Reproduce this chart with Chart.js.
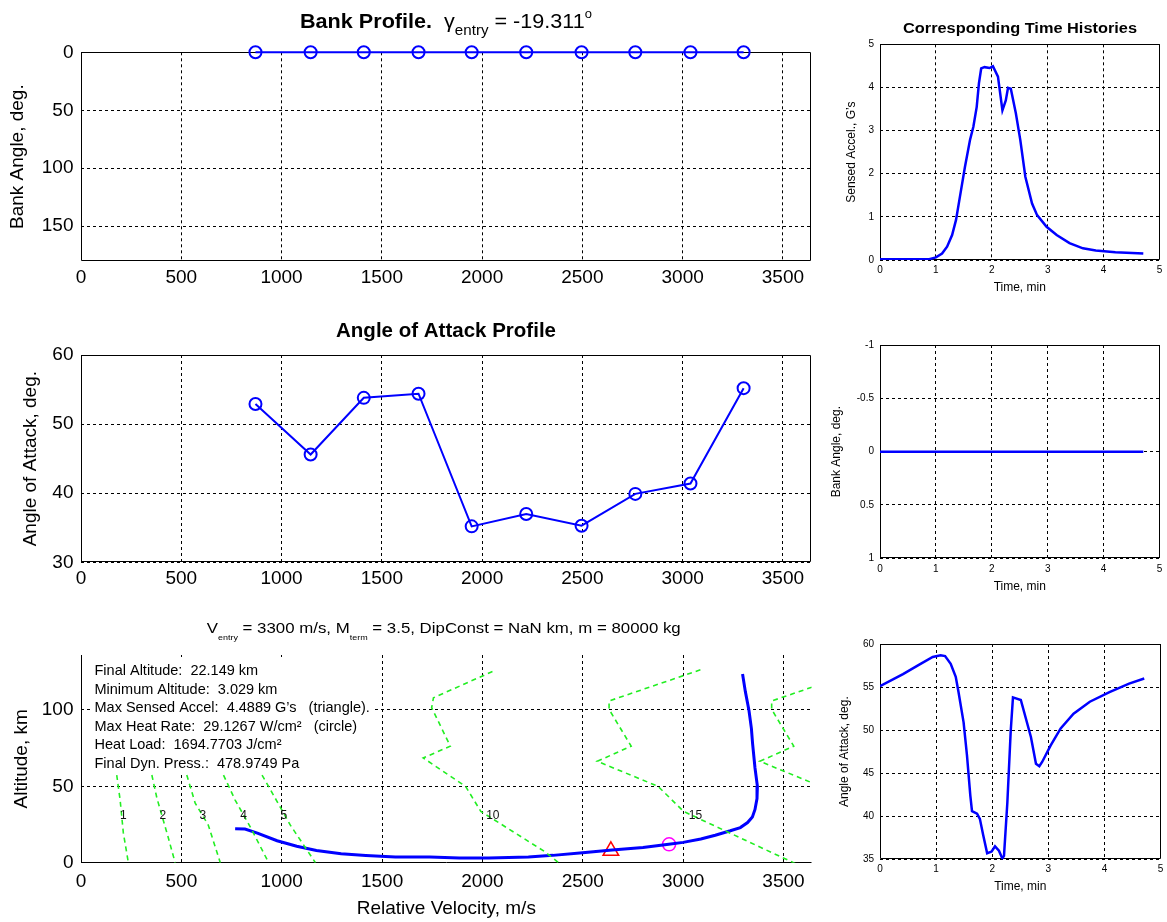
<!DOCTYPE html>
<html><head><meta charset="utf-8">
<script src="https://cdn.jsdelivr.net/npm/chart.js@4.4.1/dist/chart.umd.min.js"></script>
<style>
html,body{margin:0;padding:0;background:#fff;width:1167px;height:922px;overflow:hidden}
canvas{position:absolute;left:0;top:0}
</style></head><body>
<canvas id="c1" width="1167" height="922"></canvas>
<canvas id="c2" width="1167" height="922"></canvas>
<canvas id="c3" width="1167" height="922"></canvas>
<canvas id="c4" width="1167" height="922"></canvas>
<canvas id="c5" width="1167" height="922"></canvas>
<canvas id="c6" width="1167" height="922"></canvas>
<script>
// ---------------- data ----------------
const profileVel = [870, 1145, 1410, 1683, 1948, 2220, 2496, 2764, 3039, 3304];
const bankProfile = [0, 0, 0, 0, 0, 0, 0, 0, 0, 0];
const aoaProfile = [52.9, 45.6, 53.8, 54.4, 35.2, 37.0, 35.3, 39.9, 41.4, 55.2];

const trajVel = [3296, 3310, 3328, 3340, 3346, 3358, 3370, 3368, 3358, 3345, 3321, 3285, 3235, 3160, 3088, 3000, 2928, 2800, 2646, 2499, 2351, 2229, 2032, 1885, 1738, 1566, 1419, 1296, 1173, 1075, 977, 879, 817, 768];
const trajAlt = [123.5, 112, 99.6, 88, 78, 62, 50, 42, 34.9, 30, 26.3, 23, 20.9, 18, 15.5, 13.3, 12.1, 10, 8.3, 6.5, 4.8, 3.8, 3.03, 3.1, 3.7, 3.8, 4.7, 5.8, 8, 10.8, 14.4, 19.4, 22, 22.15];
const maxAccelPoint = [2640, 7.8];
const maxHeatPoint = [2930, 12];

const c1Vel = [178, 195, 211, 236],  c1Alt = [57.4, 41, 19.5, 0];
const c2Vel = [353, 378, 434, 469],  c2Alt = [57.4, 42.4, 16.8, 0];
const c3Vel = [527, 569, 634, 694],  c3Alt = [57.4, 39, 24.7, 0];
const c4Vel = [710, 768, 843, 935],  c4Alt = [57.4, 41, 23.5, 0];
const c5Vel = [902, 960, 1043, 1168], c5Alt = [57.4, 44, 24.6, 0];
const c10Vel = [2050, 1756, 1747, 1840, 1705, 1916, 1992, 2311, 2379];
const c10Alt = [125.2, 108, 101.5, 76.3, 68.6, 50, 33.6, 7.2, 0];
const c15Vel = [3086, 2631, 2631, 2741, 2572, 2875, 3002, 3574];
const c15Alt = [126.3, 105.9, 100.4, 76.3, 66.4, 50, 33.6, -1.5];
const c20Vel = [3896, 3441, 3441, 3551, 3382, 3685, 3812, 4384];
const c20Alt = [126.3, 105.9, 100.4, 76.3, 66.4, 50, 33.6, -1.5];
const contourLabels = ['1', '2', '3', '4', '5', '10', '15'];
const contourLabelVel = [211, 408, 607, 810, 1010, 2052, 3061];
const contourLabelAlt = [31, 31, 31, 31, 31, 31, 31];

const summaryLines = [
  'Final Altitude:  22.149 km',
  'Minimum Altitude:  3.029 km',
  'Max Sensed Accel:  4.4889 G\u2019s   (triangle).',
  'Max Heat Rate:  29.1267 W/cm\u00B2   (circle)',
  'Heat Load:  1694.7703 J/cm\u00B2',
  'Final Dyn. Press.:  478.9749 Pa'
];

const accelTime = [0, 0.88, 1.0, 1.11, 1.2, 1.29, 1.36, 1.43, 1.52, 1.61, 1.67, 1.73, 1.77, 1.81, 1.87, 1.96, 2.02, 2.11, 2.19, 2.25, 2.29, 2.34, 2.43, 2.51, 2.6, 2.72, 2.81, 2.98, 3.16, 3.39, 3.63, 3.86, 4.21, 4.71];
const accelG = [0.02, 0.02, 0.06, 0.15, 0.31, 0.58, 0.93, 1.47, 2.16, 2.78, 3.09, 3.55, 4.1, 4.44, 4.47, 4.45, 4.49, 4.25, 3.47, 3.7, 3.99, 3.97, 3.4, 2.78, 1.93, 1.31, 1.04, 0.77, 0.58, 0.39, 0.27, 0.22, 0.18, 0.15];
const bankTime = [0, 4.71];
const bankHist = [0, 0];
const aoaTime = [0, 0.41, 0.70, 0.94, 1.08, 1.16, 1.26, 1.35, 1.40, 1.49, 1.55, 1.61, 1.64, 1.73, 1.78, 1.84, 1.91, 1.99, 2.05, 2.12, 2.18, 2.21, 2.27, 2.33, 2.37, 2.51, 2.69, 2.78, 2.84, 2.89, 3.04, 3.22, 3.45, 3.74, 4.09, 4.44, 4.71];
const aoaHist = [55.1, 56.5, 57.6, 58.5, 58.7, 58.6, 57.7, 56.2, 54.4, 50.9, 47.1, 42.4, 40.6, 40.3, 39.7, 37.8, 35.7, 35.9, 36.5, 36.0, 35.1, 35.4, 41.6, 49.9, 53.8, 53.5, 49.2, 46.1, 45.8, 46.3, 48.2, 50.2, 51.9, 53.3, 54.4, 55.4, 56.0];

const velTicks = [0, 500, 1000, 1500, 2000, 2500, 3000, 3500];
const bankTicks = [0, 50, 100, 150];
const aoaTicks = [30, 40, 50, 60];
const altTicks = [0, 50, 100];
const timeTicks = [0, 1, 2, 3, 4, 5];
const accelTicks = [0, 1, 2, 3, 4, 5];
const bankHistTicks = [-1, -0.5, 0, 0.5, 1];
const aoaHistTicks = [35, 40, 45, 50, 55, 60];

// ---------------- helpers ----------------
const FAM = '"Liberation Sans", Arial, Helvetica, sans-serif';
const pts = (xs, ys) => xs.map((v, i) => ({x: v, y: ys[i]}));

function axis(o) {
  return {
    type: 'linear', min: o.min, max: o.max, reverse: !!o.reverse,
    afterBuildTicks: s => { s.ticks = o.ticks.map(v => ({value: v})); },
    afterFit: s => { if (o.width != null) s.width = o.width; if (o.height != null) s.height = o.height; },
    ticks: {callback: v => String(v), font: {size: o.fs, family: FAM}, color: '#000', padding: o.pad,
            autoSkip: false, maxRotation: 0, minRotation: 0, includeBounds: false},
    grid: {display: true, color: '#000', lineWidth: 1, drawTicks: false},
    border: {display: false, dash: [3, 3]},
    title: o.title ? {display: true, text: o.title, font: {size: o.ts, family: FAM}, color: '#000', padding: 0} : {display: false}
  };
}

function richText(ctx, segs, cx, baseY, targetW) {
  ctx.save();
  ctx.fillStyle = '#000';
  ctx.textBaseline = 'alphabetic';
  ctx.textAlign = 'left';
  let w = 0;
  segs.forEach(s => { ctx.font = s.f; s.w = ctx.measureText(s.t).width; w += s.w; });
  const sx = targetW ? targetW / w : 1;
  ctx.translate(cx - w * sx / 2, baseY);
  ctx.scale(sx, 1);
  let x = 0;
  segs.forEach(s => { ctx.font = s.f; ctx.fillText(s.t, x, s.dy || 0); x += s.w; });
  ctx.restore();
}

function framePlugin(sides, extra) {
  return {
    id: 'frame',
    beforeDatasetsDraw(chart) {
      const {ctx, chartArea: a} = chart;
      if (extra && extra.before) extra.before(chart);
      const l = Math.round(a.left) + 0.5, r = Math.round(a.right) - 0.5;
      const t = Math.round(a.top) + 0.5, b = Math.round(a.bottom) - 0.5;
      ctx.save();
      ctx.setLineDash([]);
      ctx.strokeStyle = '#000';
      ctx.lineWidth = 1;
      ctx.beginPath();
      if (sides === 'lb') { ctx.moveTo(l, t); ctx.lineTo(l, b); ctx.lineTo(r, b); }
      else ctx.rect(l, t, r - l, b - t);
      ctx.stroke();
      ctx.restore();
    },
    afterDraw(chart) { if (extra && extra.after) extra.after(chart); }
  };
}

function baseOpts(pad, x, y) {
  return {
    responsive: false, animation: false, devicePixelRatio: 1, events: [],
    layout: {padding: pad, autoPadding: false},
    plugins: {legend: {display: false}, tooltip: {enabled: false}, title: {display: false}},
    scales: {x: x, y: y}
  };
}

const BLUE = '#0000ff';
const GREEN = '#22ee22';

// ---------------- Panel 1: Bank profile ----------------
new Chart(document.getElementById('c1'), {
  type: 'scatter',
  data: {datasets: [{data: pts(profileVel, bankProfile), showLine: true, borderColor: BLUE, borderWidth: 2,
    pointRadius: 6, pointBorderWidth: 2, pointBorderColor: BLUE, pointBackgroundColor: 'rgba(0,0,0,0)', clip: false}]},
  options: baseOpts({left: 6.7, right: 356, top: 52.3, bottom: 631},
    axis({min: 0, max: 3640, ticks: velTicks, fs: 19, pad: 5.5, height: 30}),
    axis({min: 0, max: 180, reverse: true, ticks: bankTicks, fs: 19, pad: 7.5, width: 74.3, title: 'Bank Angle, deg.', ts: 19})),
  plugins: [framePlugin('all', {after(chart) {
    const a = chart.chartArea;
    richText(chart.ctx, [
      {t: 'Bank Profile.', f: 'bold 20px ' + FAM},
      {t: '  \u03B3', f: '20px ' + FAM},
      {t: 'entry', f: '14px ' + FAM, dy: 7},
      {t: ' = -19.311', f: '20px ' + FAM},
      {t: 'o', f: '12px ' + FAM, dy: -10}
    ], (a.left + a.right) / 2, a.top - 24.8, 292);
  }})]
});

// ---------------- Panel 2: Angle of attack profile ----------------
new Chart(document.getElementById('c2'), {
  type: 'scatter',
  data: {datasets: [{data: pts(profileVel, aoaProfile), showLine: true, borderColor: BLUE, borderWidth: 2,
    pointRadius: 6, pointBorderWidth: 2, pointBorderColor: BLUE, pointBackgroundColor: 'rgba(0,0,0,0)', clip: false}]},
  options: baseOpts({left: 19.1, right: 356, top: 355, bottom: 329.7},
    axis({min: 0, max: 3640, ticks: velTicks, fs: 19, pad: 4.8, height: 30}),
    axis({min: 30, max: 60, ticks: aoaTicks, fs: 19, pad: 7.5, width: 61.9, title: 'Angle of Attack, deg.', ts: 19})),
  plugins: [framePlugin('all', {after(chart) {
    const a = chart.chartArea;
    richText(chart.ctx, [{t: 'Angle of Attack Profile', f: 'bold 20px ' + FAM}], (a.left + a.right) / 2, a.top - 18, 220);
  }})]
});

// ---------------- Panel 3: Altitude vs velocity ----------------
const contourStyle = {showLine: true, borderColor: GREEN, borderWidth: 1.6, borderDash: [5, 4], pointRadius: 0};
new Chart(document.getElementById('c3'), {
  type: 'scatter',
  data: {datasets: [
    Object.assign({data: pts(c1Vel, c1Alt)}, contourStyle),
    Object.assign({data: pts(c2Vel, c2Alt)}, contourStyle),
    Object.assign({data: pts(c3Vel, c3Alt)}, contourStyle),
    Object.assign({data: pts(c4Vel, c4Alt)}, contourStyle),
    Object.assign({data: pts(c5Vel, c5Alt)}, contourStyle),
    Object.assign({data: pts(c10Vel, c10Alt)}, contourStyle),
    Object.assign({data: pts(c15Vel, c15Alt)}, contourStyle),
    Object.assign({data: pts(c20Vel, c20Alt)}, contourStyle),
    {data: pts(trajVel, trajAlt), showLine: true, borderColor: BLUE, borderWidth: 3, pointRadius: 0},
    {data: [{x: maxAccelPoint[0], y: maxAccelPoint[1]}], pointStyle: 'triangle', pointRadius: 9, pointBorderWidth: 1.5,
     pointBorderColor: '#ff0000', pointBackgroundColor: 'rgba(0,0,0,0)', clip: false},
    {data: [{x: maxHeatPoint[0], y: maxHeatPoint[1]}], pointStyle: 'circle', pointRadius: 6.5, pointBorderWidth: 1.5,
     pointBorderColor: '#ff00ff', pointBackgroundColor: 'rgba(0,0,0,0)', clip: false}
  ]},
  options: baseOpts({left: 10.6, right: 355.4, top: 655, bottom: 2.3},
    axis({min: 0, max: 3640, ticks: velTicks, fs: 19, pad: 7.6, height: 57, title: 'Relative Velocity, m/s', ts: 19}),
    axis({min: 0, max: 136, ticks: altTicks, fs: 19, pad: 7.5, width: 70.4, title: 'Altitude, km', ts: 19})),
  plugins: [framePlugin('lb', {
    before(chart) {
      const {ctx, chartArea: a} = chart;
      ctx.save();
      ctx.fillStyle = '#fff';
      ctx.fillRect(a.left + 11, a.top + 2, 283, 117);
      ctx.fillStyle = '#000';
      ctx.font = '14.5px ' + FAM;
      ctx.textBaseline = 'alphabetic';
      summaryLines.forEach((s, i) => ctx.fillText(s, a.left + 13.5, a.top + 20 + i * 18.5));
      ctx.restore();
    },
    after(chart) {
      const {ctx, chartArea: a, scales} = chart;
      ctx.save();
      ctx.fillStyle = '#111';
      ctx.font = '12px ' + FAM;
      ctx.textAlign = 'center';
      ctx.textBaseline = 'middle';
      contourLabels.forEach((t, i) => ctx.fillText(t, scales.x.getPixelForValue(contourLabelVel[i]), scales.y.getPixelForValue(contourLabelAlt[i])));
      ctx.restore();
      richText(ctx, [
        {t: 'V', f: '15px ' + FAM},
        {t: 'entry', f: '8px ' + FAM, dy: 7},
        {t: ' = 3300 m/s, M', f: '15px ' + FAM},
        {t: 'term', f: '8px ' + FAM, dy: 7},
        {t: ' = 3.5, DipConst = NaN km, m = 80000 kg', f: '15px ' + FAM}
      ], 443.7, a.top - 22.3, 474);
    }
  })]
});

// ---------------- Right panels ----------------
const lineDs = (xs, ys) => ({data: pts(xs, ys), showLine: true, borderColor: BLUE, borderWidth: 2.5, pointRadius: 0});

new Chart(document.getElementById('c4'), {
  type: 'scatter',
  data: {datasets: [lineDs(accelTime, accelG)]},
  options: baseOpts({left: 844.5, right: 2, top: 44.3, bottom: 626.8},
    axis({min: 0, max: 5, ticks: timeTicks, fs: 10, pad: 4.7, height: 35.2, title: 'Time, min', ts: 12}),
    axis({min: 0, max: 5, ticks: accelTicks, fs: 10, pad: 6, width: 35.5, title: 'Sensed Accel., G\u2019s', ts: 12})),
  plugins: [framePlugin('all', {after(chart) {
    richText(chart.ctx, [{t: 'Corresponding Time Histories', f: 'bold 14px ' + FAM}], 1020, chart.chartArea.top - 11, 234);
  }})]
});

new Chart(document.getElementById('c5'), {
  type: 'scatter',
  data: {datasets: [lineDs(bankTime, bankHist)]},
  options: baseOpts({left: 829.5, right: 2, top: 345, bottom: 328.1},
    axis({min: 0, max: 5, ticks: timeTicks, fs: 10, pad: 4.7, height: 35.6, title: 'Time, min', ts: 12}),
    axis({min: -1, max: 1, reverse: true, ticks: bankHistTicks, fs: 10, pad: 6, width: 50.5, title: 'Bank Angle, deg.', ts: 12})),
  plugins: [framePlugin('all')]
});

new Chart(document.getElementById('c6'), {
  type: 'scatter',
  data: {datasets: [lineDs(aoaTime, aoaHist)]},
  options: baseOpts({left: 837.8, right: 2, top: 644, bottom: 28.1},
    axis({min: 0, max: 5, ticks: timeTicks, fs: 10, pad: 3.7, height: 34.6, title: 'Time, min', ts: 12}),
    axis({min: 35, max: 60, ticks: aoaHistTicks, fs: 10, pad: 6, width: 42.2, title: 'Angle of Attack, deg.', ts: 12})),
  plugins: [framePlugin('all')]
});
</script>
</body></html>
